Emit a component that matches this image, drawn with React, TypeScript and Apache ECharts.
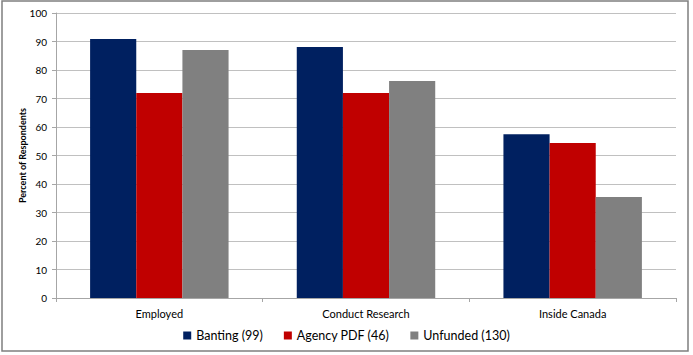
import React, { useEffect, useRef } from "react";
import * as echarts from "echarts";

const categories = ["Employed", "Conduct Research", "Inside Canada"];
const seriesNames = ["Banting (99)", "Agency PDF (46)", "Unfunded (130)"];
const banting = [90.9, 88.1, 57.5];
const agency = [71.9, 71.9, 54.4];
const unfunded = [87.0, 76.1, 35.4];
const colors = ["#002060", "#C00000", "#808080"];

const FONT = "Lato, 'Open Sans', sans-serif";

export default function App() {
  const ref = useRef<HTMLDivElement>(null);
  useEffect(() => {
    if (!ref.current) return;
    const chart = echarts.init(ref.current, undefined, { renderer: "svg" });
    const values = [banting, agency, unfunded];
    chart.setOption({
      animation: false,
      backgroundColor: "#ffffff",
      textStyle: { fontFamily: FONT },
      graphic: [
        {
          type: "rect",
          shape: { x: 2, y: 1, width: 686, height: 350 },
          style: { fill: "none", stroke: "#7f7f7f", lineWidth: 1.5 },
          silent: true,
        },
      ],
      grid: { left: 56, right: 17, top: 13, bottom: 57 },
      legend: {
        bottom: 8,
        left: "center",
        itemWidth: 8,
        itemHeight: 8,
        itemGap: 21,
        icon: "rect",
        textStyle: { fontFamily: FONT, fontSize: 12.5, color: "#000" },
        data: seriesNames,
      },
      xAxis: {
        type: "category",
        data: categories,
        axisLine: { lineStyle: { color: "#a6a6a6" } },
        axisTick: { show: true, length: 4, lineStyle: { color: "#a6a6a6" } },
        axisLabel: { color: "#000", fontSize: 11, fontFamily: FONT, margin: 10 },
      },
      yAxis: {
        type: "value",
        min: 0,
        max: 100,
        interval: 10,
        name: "Percent of Respondents",
        nameLocation: "middle",
        nameGap: 29,
        nameMoveOverlap: false,
        nameTextStyle: { fontSize: 9, fontWeight: "bold", color: "#000", fontFamily: FONT },
        axisLine: { show: true, lineStyle: { color: "#a6a6a6" } },
        axisTick: { show: true, length: 4, lineStyle: { color: "#a6a6a6" } },
        axisLabel: { color: "#000", fontSize: 10, fontFamily: FONT, margin: 9 },
        splitLine: { lineStyle: { color: "#c0c0c0", width: 1 } },
      },
      series: seriesNames.map((name, i) => ({
        name,
        type: "bar",
        data: values[i],
        barGap: "0%",
        barCategoryGap: "33%",
        itemStyle: { color: colors[i] },
      })),
    });
    return () => chart.dispose();
  }, []);
  return (
    <div
      ref={ref}
      style={{ position: "fixed", left: 0, top: 0, width: 693, height: 355 }}
    />
  );
}
